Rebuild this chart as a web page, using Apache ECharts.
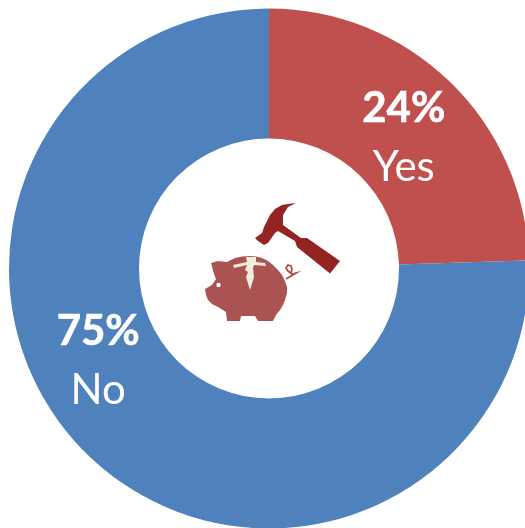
<!DOCTYPE html>
<html><head><meta charset="utf-8">
<style>html,body{margin:0;padding:0;background:#fff}#c{width:525px;height:528px}</style>
<script src="https://cdn.jsdelivr.net/npm/echarts@6/dist/echarts.min.js"></script></head>
<body><div id="c"></div>
<script>
const categories = ['Yes', 'No'];
const values = [24.5, 75.5];
const percentLabels = ['24%', '75%'];
const colors = ['#C0504D', '#4F81BD'];
const labelOffsets = [[-3, 12], [-33, -49]];

const pigOutline = [[21,73],[28,71],[37,72],[45,68],[52,66.5],[60,66],[66,66.5],[72,68],[78,71],[83,75],[88,80],[92,85],[95,91],[97,97],[97,103],[95,110],[93,115],[90,120],[86,125],[83,131],[68,131],[65,126],[51,126],[50,131],[37,131],[36,122],[28,117],[22,114],[18,110],[16,105],[15,99],[22,95],[26,89],[24,84]];
const pigTail = [[96,89],[106,83],[102,84],[98,81],[96,78],[98,75],[101,76],[102,79],[101,83]];
const crack = [[56,67],[66,67],[66,72],[75,73],[76,76],[64,75],[63,78],[64,87],[60,100],[56,87],[58,82],[55,80],[57,75],[44,78],[43,75],[57,72]];
const hammer = [[106,13],[98,14],[92,15],[85,19],[80,25],[74,37],[72,43],[65,48],[68,51],[74,55],[78,53],[85,43],[88,41],[105,51],[107,57],[140,83.5],[150,71],[117,48],[111,48],[93,35],[93,25],[98,17]];

const chart = echarts.init(document.getElementById('c'), null, {renderer: 'canvas'});
chart.setOption({
  animation: false,
  backgroundColor: '#fff',
  series: [{
    type: 'pie', center: [269, 268.5], radius: [130, 260], startAngle: 90, clockwise: true,
    silent: true,
    data: categories.map((n, i) => ({
      name: n, value: values[i],
      itemStyle: {color: colors[i]},
      label: {
        position: 'inside', offset: labelOffsets[i],
        formatter: '{p|' + percentLabels[i] + '}\n{n|' + n + '}',
        rich: {
          p: {fontFamily: 'Lato', fontWeight: 'bold', fontSize: 42, color: '#fff', lineHeight: 58, align: 'center', textBorderColor: '#fff', textBorderWidth: 0.6},
          n: {fontFamily: 'Lato', fontSize: 42, color: '#fff', lineHeight: 60, align: 'center'}
        }
      },
      labelLine: {show: false}
    }))
  }],
  graphic: [
    {type: 'group', x: 190, y: 190, children: [
      {type: 'polygon', shape: {points: pigOutline}, style: {fill: '#AB5352'}},
      {type: 'polyline', shape: {points: pigTail}, style: {stroke: '#AB5352', lineWidth: 1.8, fill: null}},
      {type: 'circle', shape: {cx: 28.5, cy: 95, r: 2.2}, style: {fill: '#fff'}},
      {type: 'polygon', shape: {points: crack}, style: {fill: '#EEEDE0'}},
      {type: 'polygon', shape: {points: hammer}, style: {fill: '#942421'}}
    ]}
  ]
});
</script></body></html>
